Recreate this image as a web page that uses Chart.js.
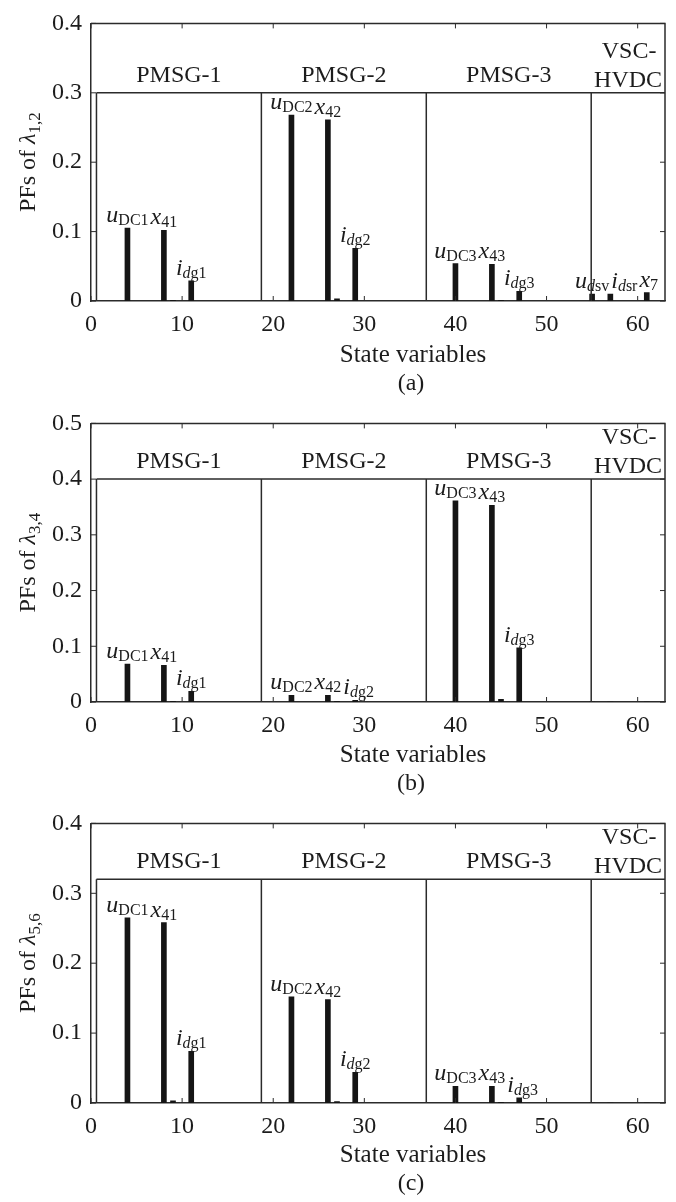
<!DOCTYPE html>
<html>
<head>
<meta charset="utf-8">
<script src="https://cdn.jsdelivr.net/npm/chart.js@4.4.1/dist/chart.umd.min.js"></script>
<style>
  body { margin: 0; background: #fff; width: 676px; }
  canvas { display: block; }
</style>
</head>
<body>
<canvas id="chartA" width="676" height="400"></canvas>
<canvas id="chartB" width="676" height="400"></canvas>
<canvas id="chartC" width="676" height="402"></canvas>
<script>
// state variable index of every bar
const stateVars = [4, 8, 9, 11, 22, 26, 27, 29, 40, 44, 45, 47, 55, 57, 61];

// participation factors
const pfA = [0.105, 0.102, 0.001, 0.029, 0.268, 0.261, 0.003, 0.076, 0.054, 0.053, 0.001, 0.014, 0.010, 0.010, 0.012];
const pfB = [0.068, 0.066, 0.001, 0.019, 0.012, 0.012, 0.001, 0.003, 0.361, 0.353, 0.005, 0.097, 0, 0, 0];
const pfC = [0.265, 0.258, 0.003, 0.074, 0.152, 0.148, 0.002, 0.044, 0.024, 0.024, 0.001, 0.0075, 0, 0, 0];

// bar labels: [italic symbol, italic subscript part, upright subscript part]
const namesAll = [['u', '', 'DC1'], ['x', '', '41'], null, ['i', 'd', 'g1'],
                  ['u', '', 'DC2'], ['x', '', '42'], null, ['i', 'd', 'g2'],
                  ['u', '', 'DC3'], ['x', '', '43'], null, ['i', 'd', 'g3'],
                  ['u', 'd', 'sv'], ['i', 'd', 'sr'], ['x', '', '7']];
const namesNoVsc = namesAll.slice(0, 12).concat([null, null, null]);

// subsystem boxes
const groupNames = ['PMSG-1', 'PMSG-2', 'PMSG-3', 'VSC-\nHVDC'];
const groupEdges = [0.6, 18.7, 36.8, 54.9, 63];

const xTicks = [0, 10, 20, 30, 40, 50, 60];

const SERIF = '"Liberation Serif", "Times New Roman", serif';
const INK = '#1c1c1c';
const MAIN = 24, SUB = 16;

function labelWidth(ctx, n) {
    ctx.font = 'italic ' + MAIN + 'px ' + SERIF;
    const w1 = ctx.measureText(n[0]).width;
    ctx.font = 'italic ' + SUB + 'px ' + SERIF;
    const w2 = n[1] ? ctx.measureText(n[1]).width : 0;
    ctx.font = SUB + 'px ' + SERIF;
    const w3 = ctx.measureText(n[2]).width;
    return [w1, w2, w3];
}

function drawSubLabel(ctx, x0, base, n, w) {
    ctx.textAlign = 'left';
    ctx.textBaseline = 'alphabetic';
    ctx.font = 'italic ' + MAIN + 'px ' + SERIF;
    ctx.fillText(n[0], x0, base);
    x0 += w[0];
    if (n[1]) {
        ctx.font = 'italic ' + SUB + 'px ' + SERIF;
        ctx.fillText(n[1], x0, base + 3);
        x0 += w[1];
    }
    ctx.font = SUB + 'px ' + SERIF;
    ctx.fillText(n[2], x0, base + 3);
}

const decor = {
    id: 'decor',
    afterDraw(chart, args, opts) {
        const ctx = chart.ctx;
        const a = chart.chartArea;
        const x = chart.scales.x, y = chart.scales.y;
        ctx.save();
        ctx.strokeStyle = '#2b2b2b';
        ctx.fillStyle = INK;

        // top and right frame
        ctx.lineWidth = 1.5;
        ctx.beginPath();
        ctx.moveTo(a.left, a.top);
        ctx.lineTo(a.right, a.top);
        ctx.lineTo(a.right, a.bottom);
        ctx.stroke();

        // inward ticks on all sides
        ctx.lineWidth = 1;
        ctx.beginPath();
        x.ticks.forEach(t => {
            const px = x.getPixelForValue(t.value);
            ctx.moveTo(px, a.bottom); ctx.lineTo(px, a.bottom - 5);
            ctx.moveTo(px, a.top); ctx.lineTo(px, a.top + 5);
        });
        y.ticks.forEach(t => {
            const py = y.getPixelForValue(t.value);
            ctx.moveTo(a.left, py); ctx.lineTo(a.left + 5, py);
            ctx.moveTo(a.right, py); ctx.lineTo(a.right - 5, py);
        });
        ctx.stroke();

        // subsystem boxes
        const yTop = y.getPixelForValue(opts.boxTop);
        const y0 = y.getPixelForValue(0);
        ctx.lineWidth = 1.5;
        ctx.beginPath();
        ctx.moveTo(x.getPixelForValue(groupEdges[0]), yTop);
        ctx.lineTo(a.right, yTop);
        groupEdges.slice(0, -1).forEach(e => {
            const px = x.getPixelForValue(e);
            ctx.moveTo(px, yTop);
            ctx.lineTo(px, y0);
        });
        ctx.stroke();

        ctx.font = '24px ' + SERIF;
        ctx.textAlign = 'center';
        ctx.textBaseline = 'alphabetic';
        groupNames.forEach((g, i) => {
            const cx = x.getPixelForValue((groupEdges[i] + groupEdges[i + 1]) / 2);
            const lines = g.split('\n');
            if (lines.length === 1) {
                ctx.fillText(g, cx, yTop - 11);
            } else {
                ctx.fillText(lines[0], cx + 1, yTop - 35);
                ctx.fillText(lines[1], cx, yTop - 6);
            }
        });

        // bar labels, centred on the bar but pushed right when they would collide
        const vals = chart.data.datasets[0].data;
        let prevRight = -1e9, prevBase = -1e9;
        opts.names.forEach((n, i) => {
            if (!n) return;
            const px = x.getPixelForValue(vals[i].x);
            const py = y.getPixelForValue(vals[i].y);
            const base = py - 6;
            const w = labelWidth(ctx, n);
            const total = w[0] + w[1] + w[2];
            let x0 = px - total / 2;
            if (Math.abs(base - prevBase) < 20 && x0 < prevRight + 2) x0 = prevRight + 2;
            drawSubLabel(ctx, x0, base, n, w);
            prevRight = x0 + total;
            prevBase = base;
        });

        // y axis title, rotated
        ctx.save();
        ctx.translate(35, (a.top + a.bottom) / 2);
        ctx.rotate(-Math.PI / 2);
        ctx.font = '24px ' + SERIF;
        const wTxt = ctx.measureText('PFs of ').width;
        ctx.font = 'italic 24px ' + SERIF;
        const wLam = ctx.measureText('λ').width;
        ctx.font = '17px ' + SERIF;
        const wSub = ctx.measureText(opts.lambdaSub).width;
        let sx = -(wTxt + wLam + wSub) / 2;
        ctx.textAlign = 'left';
        ctx.font = '24px ' + SERIF;
        ctx.fillText('PFs of ', sx, 0);
        sx += wTxt;
        ctx.font = 'italic 24px ' + SERIF;
        ctx.fillText('λ', sx, 0);
        sx += wLam;
        ctx.font = '17px ' + SERIF;
        ctx.fillText(opts.lambdaSub, sx, 5);
        ctx.restore();

        // x axis title and caption
        ctx.textAlign = 'center';
        ctx.textBaseline = 'alphabetic';
        ctx.font = '25px ' + SERIF;
        ctx.fillText('State variables', 413, 362);
        ctx.font = '24px ' + SERIF;
        ctx.fillText(opts.caption, 411, 390);
        ctx.restore();
    }
};

function makePanel(id, pf, names, yMax, boxTop, lambdaSub, caption, padTop, plotBottom) {
    const canvas = document.getElementById(id);
    const H = canvas.height;
    return new Chart(canvas.getContext('2d'), {
        type: 'bar',
        data: {
            datasets: [{
                data: stateVars.map((s, i) => ({ x: s, y: pf[i] })),
                backgroundColor: '#151515',
                barThickness: 5
            }]
        },
        options: {
            responsive: false,
            animation: false,
            devicePixelRatio: 1,
            layout: { padding: { top: padTop, right: 11, left: 0, bottom: 0 } },
            plugins: {
                legend: { display: false },
                tooltip: { enabled: false },
                decor: { names: names, boxTop: boxTop, lambdaSub: lambdaSub, caption: caption }
            },
            scales: {
                x: {
                    type: 'linear',
                    offset: false,
                    min: 0,
                    max: 63,
                    afterFit: s => { s.height = H - plotBottom; },
                    afterBuildTicks: s => { s.ticks = xTicks.map(v => ({ value: v })); },
                    grid: { display: false, drawTicks: false, offset: false },
                    border: { display: true, color: '#2b2b2b', width: 1.5 },
                    ticks: {
                        padding: 9,
                        color: INK,
                        font: { family: SERIF, size: 24 },
                        maxRotation: 0
                    }
                },
                y: {
                    min: 0,
                    max: yMax,
                    afterFit: s => { s.width = 91; },
                    grid: { display: false, drawTicks: false },
                    border: { display: true, color: '#2b2b2b', width: 1.5 },
                    ticks: {
                        stepSize: 0.1,
                        padding: 9,
                        color: INK,
                        font: { family: SERIF, size: 24 },
                        callback: v => v === 0 ? '0' : v.toFixed(1)
                    }
                }
            }
        },
        plugins: [decor]
    });
}

makePanel('chartA', pfA, namesAll, 0.4, 0.30, '1,2', '(a)', 17, 301);
makePanel('chartB', pfB, namesNoVsc, 0.5, 0.40, '3,4', '(b)', 18, 302);
makePanel('chartC', pfC, namesNoVsc, 0.4, 0.32, '5,6', '(c)', 19, 303);
</script>
</body>
</html>
